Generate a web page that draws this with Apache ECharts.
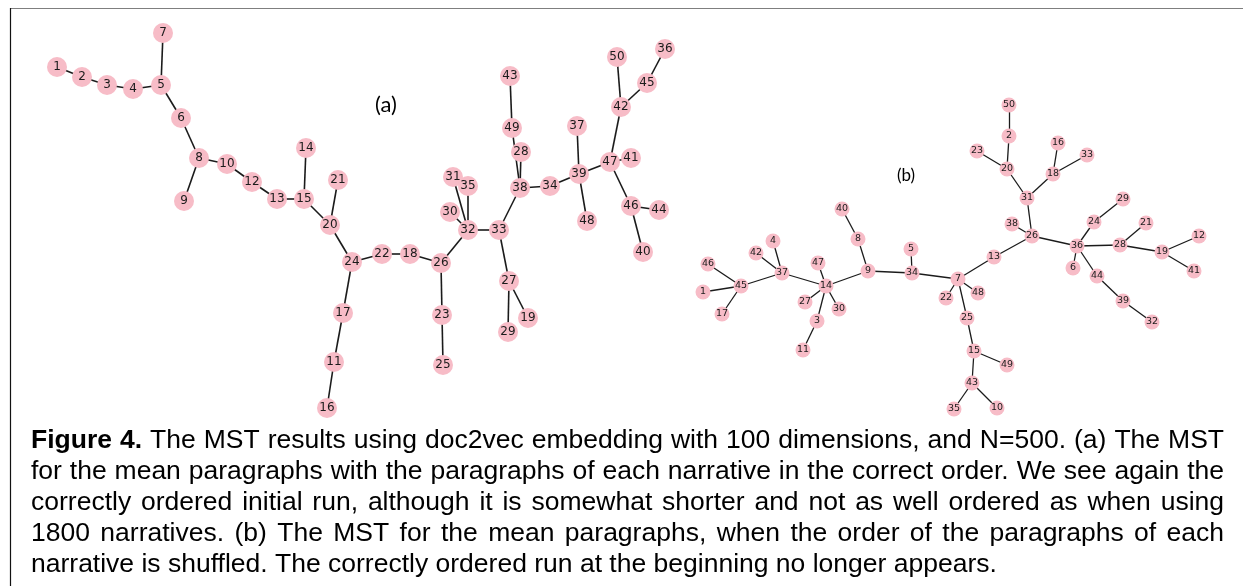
<!DOCTYPE html>
<html>
<head>
<meta charset="utf-8">
<script src="https://cdn.jsdelivr.net/npm/echarts@6/dist/echarts.min.js"></script>
<style>
  html, body { margin: 0; padding: 0; background: #fff; }
  #chart { width: 1243px; height: 586px; }
</style>
</head>
<body>
<div id="chart"></div>
<script>
// ---------- Panel (a): MST, paragraphs in correct order ----------
const nodeIdsA = [1,2,3,4,5,6,7,8,9,10,11,12,13,14,15,16,17,18,19,20,21,22,23,24,25,26,27,28,29,30,31,32,33,34,35,36,37,38,39,40,41,42,43,44,45,46,47,48,49,50];
const layoutXA = [57,82,107,133,161,181,163,199,184,227,334,252,277,306,304,327,343,410,528,330,338,382,442,352,443,441,509,521,508,450,453,468,499,550,468,665,577,520,579,643,631,621,510,659,647,631,610,587,512,617];
const layoutYA = [67,77,85,89,85,118,33,158,201,164,362,182,199,148,199,408,313,254,318,225,180,254,315,262,365,263,281,152,332,212,177,230,230,186,186,49,126,188,174,252,158,107,76,210,83,206,162,221,128,57];
const edgesA = [[1,2],[2,3],[3,4],[4,5],[5,7],[5,6],[6,8],[8,9],[8,10],[10,12],
  [12,13],[13,15],[15,14],[15,20],[21,20],[20,24],[24,22],[22,18],[18,26],[24,17],
  [17,11],[11,16],[26,23],[23,25],[26,32],[32,31],[32,35],[32,30],[32,33],[33,38],
  [33,27],[27,29],[27,19],[38,28],[49,38],[43,49],[38,34],[34,39],[39,37],[39,48],
  [39,47],[47,41],[47,42],[42,50],[42,45],[45,36],[47,46],[46,44],[46,40]];

// ---------- Panel (b): MST, paragraph order shuffled ----------
const nodeIdsB = [1,2,3,4,5,6,7,8,9,10,11,12,13,14,15,16,17,18,19,20,21,22,23,24,25,26,27,28,29,30,31,32,33,34,35,36,37,38,39,40,41,42,43,44,45,46,47,48,49,50];
const layoutXB = [703,1009,817,773,911,1073,958,858,868,997,803,1199,994,826,974,1058,722,1053,1162,1007,1146,946,977,1094,967,1032,805,1120,1123,839,1027,1152,1087,912,954,1077,782,1012,1123,842,1194,756,972,1097,741,708,818,978,1007,1009];
const layoutYB = [292,136,321,241,249,268,279,239,271,408,350,236,257,286,351,143,314,174,252,169,223,298,151,222,318,236,302,245,199,309,198,322,155,273,409,246,273,224,301,209,271,253,383,276,286,264,263,293,365,105];
const edgesB = [[46,45],[1,45],[17,45],[45,37],[42,37],[4,37],[37,14],[47,14],[27,14],[30,14],
  [3,14],[3,11],[14,9],[9,8],[8,40],[9,34],[5,34],[34,7],[7,22],[7,48],
  [7,25],[25,15],[15,49],[15,43],[43,35],[43,10],[7,13],[13,26],[26,38],[26,31],
  [31,20],[20,23],[20,2],[2,50],[31,18],[18,16],[18,33],[26,36],[36,6],[36,24],
  [24,29],[36,28],[28,21],[28,19],[19,12],[19,41],[36,44],[44,39],[39,32]];

// ---------- Caption text ----------
const captionBold = 'Figure 4.';
const captionLines = [
  'The MST results using doc2vec embedding with 100 dimensions, and N=500. (a) The MST',
  'for the mean paragraphs with the paragraphs of each narrative in the correct order. We see again the',
  'correctly ordered initial run, although it is somewhat shorter and not as well ordered as when using',
  '1800 narratives. (b) The MST for the mean paragraphs, when the order of the paragraphs of each',
  'narrative is shuffled. The correctly ordered run at the beginning no longer appears.'
];
const panelTitles = ['(a)', '(b)'];

// ---------- build ----------
const NODE_COLOR = '#f7bcc7';
function buildGraph(ids, xs, ys, edges, size, fontSize, lineWidth) {
  return {
    type: 'graph',
    coordinateSystem: 'cartesian2d',
    xAxisIndex: 0, yAxisIndex: 0,
    symbol: 'circle',
    symbolSize: size,
    itemStyle: { color: NODE_COLOR },
    label: { show: true, position: 'inside', fontFamily: 'DejaVu Sans', fontSize: fontSize, color: '#1b1b1b' },
    lineStyle: { color: '#1b1b1b', width: lineWidth, opacity: 1 },
    emphasis: { disabled: true },
    data: ids.map((id, i) => ({ name: String(id), value: [xs[i], ys[i]] })),
    links: edges.map(e => ({ source: String(e[0]), target: String(e[1]) })),
    z: 3
  };
}

const W = 1243, H = 586;
const chart = echarts.init(document.getElementById('chart'), null, { renderer: 'canvas' });

// Caption layout (justified lines)
const CAP_FONT_SIZE = 26.5;
const CAP_FAMILY = '"Liberation Sans", Arial, sans-serif';
const CAP_LEFT = 31, CAP_RIGHT = 1224, CAP_TOP = 441, CAP_STEP = 30.8;
const ctx = document.createElement('canvas').getContext('2d');
function measure(t, bold) {
  ctx.font = (bold ? 'bold ' : '') + CAP_FONT_SIZE + 'px ' + CAP_FAMILY;
  return ctx.measureText(t).width;
}
const captionGraphics = [];
captionLines.forEach((line, li) => {
  let words = line.split(' ').map(w => ({ t: w, b: false }));
  if (li === 0) words = captionBold.split(' ').map(w => ({ t: w, b: true })).concat(words);
  const widths = words.map(w => measure(w.t, w.b));
  const total = widths.reduce((a, b) => a + b, 0);
  const last = li === captionLines.length - 1;
  const gap = last ? measure(' ', false) : (CAP_RIGHT - CAP_LEFT - total) / (words.length - 1);
  let x = CAP_LEFT;
  const y = CAP_TOP + li * CAP_STEP;
  words.forEach((w, i) => {
    captionGraphics.push({
      type: 'text', x: x, y: y, silent: true,
      style: { text: w.t, font: (w.b ? 'bold ' : '') + CAP_FONT_SIZE + 'px ' + CAP_FAMILY,
               fill: '#000', textAlign: 'left', textVerticalAlign: 'middle' }
    });
    x += widths[i] + gap;
  });
});

const option = {
  backgroundColor: '#ffffff',
  animation: false,
  grid: { left: 0, top: 0, width: W, height: H, containLabel: false },
  xAxis: { type: 'value', min: 0, max: W, show: false },
  yAxis: { type: 'value', min: 0, max: H, inverse: true, show: false },
  series: [
    buildGraph(nodeIdsA, layoutXA, layoutYA, edgesA, 20, 12, 1.6),
    buildGraph(nodeIdsB, layoutXB, layoutYB, edgesB, 15, 9.5, 1.3)
  ],
  graphic: [
    { type: 'line', shape: { x1: 10, y1: 8.5, x2: W, y2: 8.5 }, style: { stroke: '#7f7f7f', lineWidth: 1.2 }, silent: true },
    { type: 'line', shape: { x1: 10.5, y1: 8, x2: 10.5, y2: H }, style: { stroke: '#111', lineWidth: 1.2 }, silent: true },
    { type: 'text', x: 386, y: 105, silent: true,
      style: { text: panelTitles[0], font: '22px Lato, "Noto Sans", sans-serif', fill: '#000', textAlign: 'center', textVerticalAlign: 'middle' } },
    { type: 'text', x: 906, y: 176, silent: true,
      style: { text: panelTitles[1], font: '17px Lato, "Noto Sans", sans-serif', fill: '#000', textAlign: 'center', textVerticalAlign: 'middle' } }
  ].concat(captionGraphics)
};
chart.setOption(option);
</script>
</body>
</html>
